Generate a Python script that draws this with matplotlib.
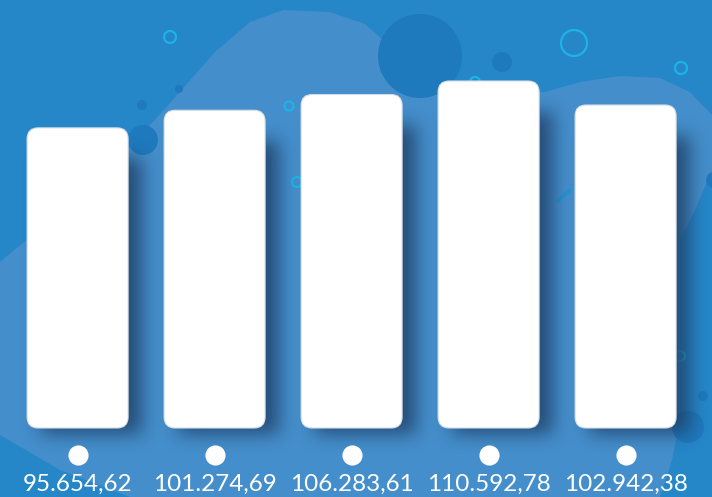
import numpy as np
import matplotlib
matplotlib.use("Agg")
import matplotlib.pyplot as plt
from matplotlib.patches import FancyBboxPatch, Circle, Polygon
from matplotlib.transforms import offset_copy

# data
values = [95654.62, 101274.69, 106283.61, 110592.78, 102942.38]


def fmt(v):
    # european style: 95.654,62
    s = f"{v:,.2f}"
    return s.replace(",", "#").replace(".", ",").replace("#", ".")


labels = [fmt(v) for v in values]

W, H = 712, 497
BG = "#2586c8"
BLOB = "#448ecb"
DARK = "#1f79bd"
CYAN = "#1cb4e8"

fig = plt.figure(figsize=(W / 100, H / 100), dpi=100)
fig.patch.set_facecolor(BG)

# background decorations in pixel coords (y down)
bg = fig.add_axes([0, 0, 1, 1], zorder=0)
bg.set_xlim(0, W)
bg.set_ylim(H, 0)
bg.axis("off")
bg.set_facecolor(BG)

blob = [(0, 262), (60, 212), (120, 158), (170, 103), (215, 52), (250, 22),
        (283, 10), (330, 12), (365, 24), (400, 55), (440, 78), (500, 90),
        (545, 92), (580, 82), (620, 76), (660, 78), (690, 92), (712, 115),
        (712, 170), (695, 210), (680, 240), (680, 420), (672, 460),
        (660, 497), (130, 497), (60, 470), (0, 435)]
bg.add_patch(Polygon(blob, closed=True, facecolor=BLOB, edgecolor="none"))

for (cx, cy, r) in [(420, 56, 42), (502, 62, 10), (143, 140, 15), (142, 105, 5),
                    (179, 89, 4), (688, 427, 16), (703, 396, 5), (714, 180, 8)]:
    bg.add_patch(Circle((cx, cy), r, facecolor=DARK, edgecolor="none"))

for (cx, cy, r) in [(170, 37, 6), (574, 43, 13), (681, 68, 6), (289, 106, 4.5),
                    (297, 182, 5), (475, 82, 5), (680, 356, 5)]:
    bg.add_patch(Circle((cx, cy), r, facecolor="none", edgecolor=CYAN, lw=1.6))
bg.plot([558, 570], [201, 190], color="#1e93d6", lw=2.2, solid_capstyle="round")

# chart axes on top, full figure
ax = fig.add_axes([0, 0, 1, 1], zorder=2)
ax.patch.set_alpha(0)
ax.axis("off")

step_px = 137.0
first_px = 77.6
base_px = 69.0            # baseline, from figure bottom
top_px = 416.0            # top of largest bar
upp = max(values) / (top_px - base_px)   # data units per pixel (y)
ax.set_xlim(-first_px / step_px, (W - first_px) / step_px)
ax.set_ylim(-base_px * upp, (H - base_px) * upp)

x = np.arange(len(values))
width = 101 / step_px

# soft shadow: blurred copy of the bars shifted right/down
mask = np.zeros((H, W))
for xi, v in zip(x, values):
    (x0, y0), (x1, y1) = ax.transData.transform([(xi - width / 2, 0), (xi + width / 2, v)])
    sx, sy = 14, 6
    c0, c1 = int(x0 + sx), int(x1 + sx)
    r0, r1 = int(H - y1 + sy + 25), int(H - y0 + sy)
    mask[max(r0, 0):min(r1, H), max(c0, 0):min(c1, W)] = 1.0


def blur(a, r, n=3):
    k = np.ones(2 * r + 1) / (2 * r + 1)
    for _ in range(n):
        a = np.apply_along_axis(lambda m: np.convolve(m, k, mode="same"), 0, a)
        a = np.apply_along_axis(lambda m: np.convolve(m, k, mode="same"), 1, a)
    return a


mask = blur(mask, 8)
shadow = np.zeros((H, W, 4))
shadow[..., 0] = 30 / 255
shadow[..., 1] = 62 / 255
shadow[..., 2] = 100 / 255
shadow[..., 3] = np.clip(mask * 0.8, 0, 1)
bg.imshow(shadow, extent=[0, W, H, 0], origin="upper", zorder=5,
          interpolation="bilinear", aspect="auto")

# rounded white bars
aspect = upp * step_px
for xi, v in zip(x, values):
    ax.add_patch(FancyBboxPatch((xi - width / 2, 0), width, v,
                                boxstyle=f"round,pad=0,rounding_size={11 / step_px}",
                                mutation_aspect=aspect,
                                facecolor="white", edgecolor="#d6dde6", lw=0.8,
                                zorder=3))

# white dots and value labels under the bars
dot_tr = offset_copy(ax.transData, fig=fig, y=-27, units="dots")
ax.plot(x, np.zeros(len(x)), "o", color="white", markersize=13.5,
        transform=dot_tr, zorder=4, clip_on=False)

lab_tr = offset_copy(ax.transData, fig=fig, y=-63, units="dots")
for xi, lab in zip(x, labels):
    ax.text(xi, 0, lab, transform=lab_tr, ha="center", va="baseline",
            color="white", fontsize=17.5, family="Lato", clip_on=False)

fig.savefig("out.png", dpi=100, facecolor=BG)
